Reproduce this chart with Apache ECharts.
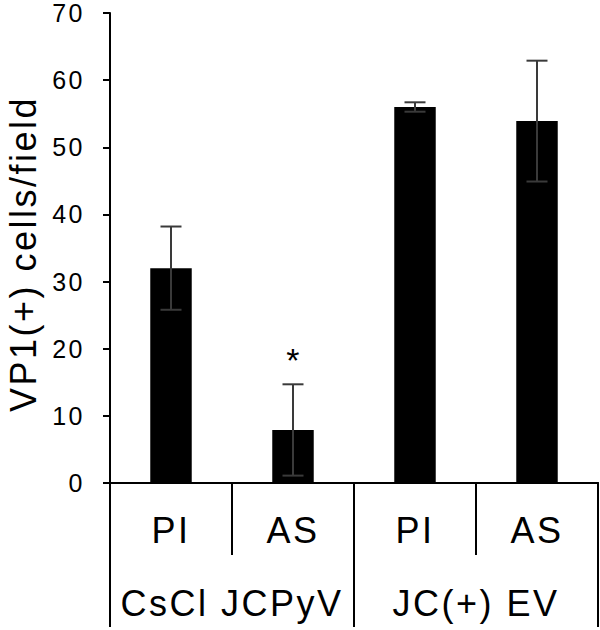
<!DOCTYPE html>
<html>
<head>
<meta charset="utf-8">
<script src="https://cdn.jsdelivr.net/npm/echarts@6/dist/echarts.min.js"></script>
<style>
  html, body { margin: 0; padding: 0; background: #fff; }
  #chart { width: 600px; height: 630px; }
  #chart text { letter-spacing: 2.5px; }
</style>
</head>
<body>
<div id="chart"></div>
<script>
// data
const categories = ['PI', 'AS', 'PI', 'AS'];
const groups = ['CsCl JCPyV', 'JC(+) EV'];
const means = [32.0, 7.9, 56.0, 53.9];
const errors = [6.2, 6.8, 0.7, 9.0];
const marks = ['', '*', '', ''];

const FONT = 'Liberation Sans, Arial, sans-serif';
const chart = echarts.init(document.getElementById('chart'), null, { renderer: 'svg' });

const errData = means.map((m, i) => [i, m - errors[i], m + errors[i]]);

const option = {
  animation: false,
  backgroundColor: '#fff',
  grid: { left: 110, right: 2, top: 13, bottom: 147, containLabel: false, outerBoundsMode: 'none' },
  xAxis: [
    {
      type: 'category',
      data: categories,
      position: 'bottom',
      offset: 0,
      axisLine: { show: true, lineStyle: { color: '#000', width: 2 } },
      axisTick: { show: true, interval: 0, length: 72, lineStyle: { color: '#000', width: 2 } },
      axisLabel: { interval: 0, margin: 29, color: '#000', fontSize: 36, fontFamily: FONT }
    },
    {
      type: 'category',
      data: groups,
      position: 'bottom',
      offset: 0,
      axisLine: { show: true, lineStyle: { color: '#000', width: 2 } },
      axisTick: { show: true, interval: 0, length: 144, lineStyle: { color: '#000', width: 2 } },
      axisLabel: { interval: 0, margin: 102, color: '#000', fontSize: 36, fontFamily: FONT }
    }
  ],
  yAxis: {
    type: 'value',
    min: 0,
    max: 70,
    interval: 10,
    name: 'VP1(+) cells/field',
    nameLocation: 'middle',
    nameGap: 72,
    nameTextStyle: { color: '#000', fontSize: 36, lineHeight: 30, fontFamily: FONT, padding: [0, 12, 0, 0] },
    axisLine: { show: true, lineStyle: { color: '#000', width: 2 } },
    axisTick: { show: true, length: 7, lineStyle: { color: '#000', width: 2 } },
    axisLabel: { margin: 25, color: '#000', fontSize: 25, fontFamily: FONT },
    splitLine: { show: false }
  },
  series: [
    {
      type: 'bar',
      xAxisIndex: 0,
      data: means,
      barWidth: '34%',
      itemStyle: { color: '#000' }
    },
    {
      type: 'custom',
      xAxisIndex: 0,
      z: 5,
      data: errData,
      renderItem: (params, api) => {
        const i = api.value(0);
        const hi = api.coord([i, api.value(2)]);
        const lo = api.coord([i, api.value(1)]);
        const half = 10.5;
        const style = { stroke: '#3a3a3a', lineWidth: 2 };
        const children = [
          { type: 'line', shape: { x1: hi[0], y1: hi[1], x2: lo[0], y2: lo[1] }, style },
          { type: 'line', shape: { x1: hi[0] - half, y1: hi[1], x2: hi[0] + half, y2: hi[1] }, style },
          { type: 'line', shape: { x1: lo[0] - half, y1: lo[1], x2: lo[0] + half, y2: lo[1] }, style }
        ];
        if (marks[i]) {
          children.push({
            type: 'text',
            x: hi[0] + 1,
            y: hi[1] - 24,
            style: { text: marks[i], fill: '#000', fontSize: 34, fontFamily: FONT, align: 'center', verticalAlign: 'middle' }
          });
        }
        return { type: 'group', children };
      }
    }
  ]
};

chart.setOption(option);
</script>
</body>
</html>
